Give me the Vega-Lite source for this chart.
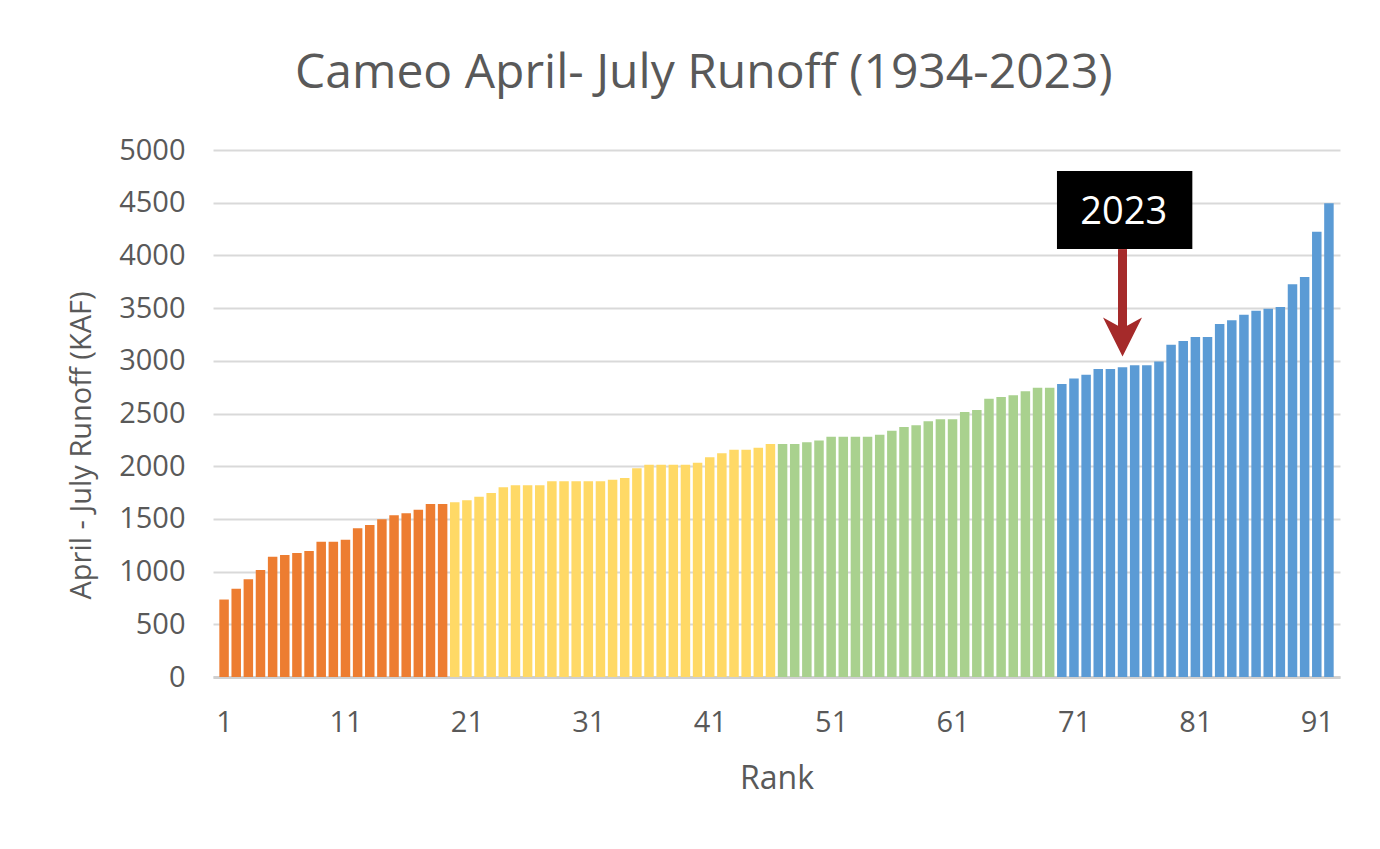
{
  "$schema": "https://vega.github.io/schema/vega-lite/v6.json",
  "width": 1127,
  "height": 527,
  "autosize": {"type": "none"},
  "padding": {"left": 213, "top": 150, "right": 40, "bottom": 172},
  "background": "white",
  "title": {"text": "Cameo April- July Runoff (1934-2023)", "frame": "bounds", "anchor": "middle", "fontSize": 48, "font": "Open Sans", "fontWeight": "normal", "color": "#595959", "offset": 38},
  "config": {"view": {"stroke": null}, "font": "Open Sans"},
  "datasets": {
    "runoff": [
      {"rank": 1, "runoff": 735, "group": "Q1"}, {"rank": 2, "runoff": 838, "group": "Q1"}, {"rank": 3, "runoff": 927, "group": "Q1"}, {"rank": 4, "runoff": 1015, "group": "Q1"}, {"rank": 5, "runoff": 1141, "group": "Q1"}, {"rank": 6, "runoff": 1157, "group": "Q1"}, {"rank": 7, "runoff": 1176, "group": "Q1"}, {"rank": 8, "runoff": 1195, "group": "Q1"}, {"rank": 9, "runoff": 1284, "group": "Q1"}, {"rank": 10, "runoff": 1284, "group": "Q1"}, {"rank": 11, "runoff": 1303, "group": "Q1"}, {"rank": 12, "runoff": 1411, "group": "Q1"}, {"rank": 13, "runoff": 1442, "group": "Q1"}, {"rank": 14, "runoff": 1496, "group": "Q1"}, {"rank": 15, "runoff": 1534, "group": "Q1"}, {"rank": 16, "runoff": 1553, "group": "Q1"}, {"rank": 17, "runoff": 1587, "group": "Q1"}, {"rank": 18, "runoff": 1641, "group": "Q1"}, {"rank": 19, "runoff": 1641, "group": "Q1"},
      {"rank": 20, "runoff": 1657, "group": "Q2"}, {"rank": 21, "runoff": 1676, "group": "Q2"}, {"rank": 22, "runoff": 1711, "group": "Q2"}, {"rank": 23, "runoff": 1746, "group": "Q2"}, {"rank": 24, "runoff": 1800, "group": "Q2"}, {"rank": 25, "runoff": 1819, "group": "Q2"}, {"rank": 26, "runoff": 1819, "group": "Q2"}, {"rank": 27, "runoff": 1819, "group": "Q2"}, {"rank": 28, "runoff": 1857, "group": "Q2"}, {"rank": 29, "runoff": 1857, "group": "Q2"}, {"rank": 30, "runoff": 1857, "group": "Q2"}, {"rank": 31, "runoff": 1857, "group": "Q2"}, {"rank": 32, "runoff": 1857, "group": "Q2"}, {"rank": 33, "runoff": 1872, "group": "Q2"}, {"rank": 34, "runoff": 1888, "group": "Q2"}, {"rank": 35, "runoff": 1980, "group": "Q2"}, {"rank": 36, "runoff": 2014, "group": "Q2"}, {"rank": 37, "runoff": 2014, "group": "Q2"}, {"rank": 38, "runoff": 2014, "group": "Q2"}, {"rank": 39, "runoff": 2014, "group": "Q2"}, {"rank": 40, "runoff": 2033, "group": "Q2"}, {"rank": 41, "runoff": 2084, "group": "Q2"}, {"rank": 42, "runoff": 2122, "group": "Q2"}, {"rank": 43, "runoff": 2157, "group": "Q2"}, {"rank": 44, "runoff": 2157, "group": "Q2"}, {"rank": 45, "runoff": 2176, "group": "Q2"}, {"rank": 46, "runoff": 2211, "group": "Q2"},
      {"rank": 47, "runoff": 2210, "group": "Q3"}, {"rank": 48, "runoff": 2210, "group": "Q3"}, {"rank": 49, "runoff": 2227, "group": "Q3"}, {"rank": 50, "runoff": 2245, "group": "Q3"}, {"rank": 51, "runoff": 2280, "group": "Q3"}, {"rank": 52, "runoff": 2280, "group": "Q3"}, {"rank": 53, "runoff": 2280, "group": "Q3"}, {"rank": 54, "runoff": 2280, "group": "Q3"}, {"rank": 55, "runoff": 2299, "group": "Q3"}, {"rank": 56, "runoff": 2337, "group": "Q3"}, {"rank": 57, "runoff": 2372, "group": "Q3"}, {"rank": 58, "runoff": 2388, "group": "Q3"}, {"rank": 59, "runoff": 2426, "group": "Q3"}, {"rank": 60, "runoff": 2445, "group": "Q3"}, {"rank": 61, "runoff": 2445, "group": "Q3"}, {"rank": 62, "runoff": 2514, "group": "Q3"}, {"rank": 63, "runoff": 2533, "group": "Q3"}, {"rank": 64, "runoff": 2641, "group": "Q3"}, {"rank": 65, "runoff": 2657, "group": "Q3"}, {"rank": 66, "runoff": 2673, "group": "Q3"}, {"rank": 67, "runoff": 2711, "group": "Q3"}, {"rank": 68, "runoff": 2745, "group": "Q3"}, {"rank": 69, "runoff": 2745, "group": "Q3"},
      {"rank": 70, "runoff": 2780, "group": "Q4"}, {"rank": 71, "runoff": 2832, "group": "Q4"}, {"rank": 72, "runoff": 2868, "group": "Q4"}, {"rank": 73, "runoff": 2922, "group": "Q4"}, {"rank": 74, "runoff": 2922, "group": "Q4"}, {"rank": 75, "runoff": 2938, "group": "Q4"}, {"rank": 76, "runoff": 2957, "group": "Q4"}, {"rank": 77, "runoff": 2957, "group": "Q4"}, {"rank": 78, "runoff": 2994, "group": "Q4"}, {"rank": 79, "runoff": 3153, "group": "Q4"}, {"rank": 80, "runoff": 3188, "group": "Q4"}, {"rank": 81, "runoff": 3226, "group": "Q4"}, {"rank": 82, "runoff": 3226, "group": "Q4"}, {"rank": 83, "runoff": 3349, "group": "Q4"}, {"rank": 84, "runoff": 3384, "group": "Q4"}, {"rank": 85, "runoff": 3438, "group": "Q4"}, {"rank": 86, "runoff": 3476, "group": "Q4"}, {"rank": 87, "runoff": 3495, "group": "Q4"}, {"rank": 88, "runoff": 3510, "group": "Q4"}, {"rank": 89, "runoff": 3726, "group": "Q4"}, {"rank": 90, "runoff": 3795, "group": "Q4"}, {"rank": 91, "runoff": 4225, "group": "Q4"}, {"rank": 92, "runoff": 4494, "group": "Q4"}
    ],
    "box": [{"rank": 69.6, "rank2": 80.75, "runoff": 4060, "runoff2": 4800}],
    "label": [{"rank": 75.1, "runoff": 4400, "text": "2023"}],
    "shaft": [{"rank": 75, "runoff": 4060, "runoff2": 3300}],
    "head": [{"rank": 75, "runoff": 3225}]
  },
  "layer": [
    {
      "data": {"name": "runoff"},
      "mark": {"type": "bar", "width": 9.5},
      "encoding": {
        "x": {"field": "rank", "type": "quantitative", "scale": {"domain": [0.5, 92.5], "nice": false, "zero": false},
          "axis": {"title": "Rank", "values": [1, 11, 21, 31, 41, 51, 61, 71, 81, 91], "grid": false, "ticks": false, "domain": true, "domainColor": "#d0d0d0", "domainWidth": 3, "labelFontSize": 29, "labelColor": "#595959", "labelPadding": 31, "titleFontSize": 32, "titleColor": "#595959", "titleFontWeight": "normal", "titlePadding": 26}},
        "y": {"field": "runoff", "type": "quantitative", "scale": {"domain": [0, 5000], "nice": false},
          "axis": {"title": "April - July Runoff (KAF)", "format": "d", "values": [0, 500, 1000, 1500, 2000, 2500, 3000, 3500, 4000, 4500, 5000], "grid": true, "gridColor": "#d9d9d9", "gridWidth": 2, "domain": false, "ticks": false, "labelFontSize": 29, "labelColor": "#595959", "labelPadding": 28, "titleFontSize": 29, "titleColor": "#595959", "titleFontWeight": "normal", "titlePadding": 22, "titleY": 295}},
        "color": {"field": "group", "type": "nominal", "scale": {"domain": ["Q1", "Q2", "Q3", "Q4"], "range": ["#ED7D31", "#FFD966", "#A9D18E", "#5B9BD5"]}, "legend": null}
      }
    },
    {
      "data": {"name": "box"},
      "mark": {"type": "rect", "color": "#000000"},
      "encoding": {
        "x": {"field": "rank", "type": "quantitative"},
        "x2": {"field": "rank2"},
        "y": {"field": "runoff", "type": "quantitative"},
        "y2": {"field": "runoff2"}
      }
    },
    {
      "data": {"name": "label"},
      "mark": {"type": "text", "color": "#ffffff", "fontSize": 38, "font": "Open Sans", "align": "center", "baseline": "middle"},
      "encoding": {
        "x": {"field": "rank", "type": "quantitative"},
        "y": {"field": "runoff", "type": "quantitative"},
        "text": {"field": "text"}
      }
    },
    {
      "data": {"name": "shaft"},
      "mark": {"type": "rule", "color": "#A52A2A", "strokeWidth": 9},
      "encoding": {
        "x": {"field": "rank", "type": "quantitative"},
        "y": {"field": "runoff", "type": "quantitative"},
        "y2": {"field": "runoff2"}
      }
    },
    {
      "data": {"name": "head"},
      "mark": {"type": "point", "shape": "M0,1L-1,-1L0,-0.45L1,-1Z", "filled": true, "color": "#A52A2A", "opacity": 1, "size": 1521},
      "encoding": {
        "x": {"field": "rank", "type": "quantitative"},
        "y": {"field": "runoff", "type": "quantitative"}
      }
    }
  ]
}
